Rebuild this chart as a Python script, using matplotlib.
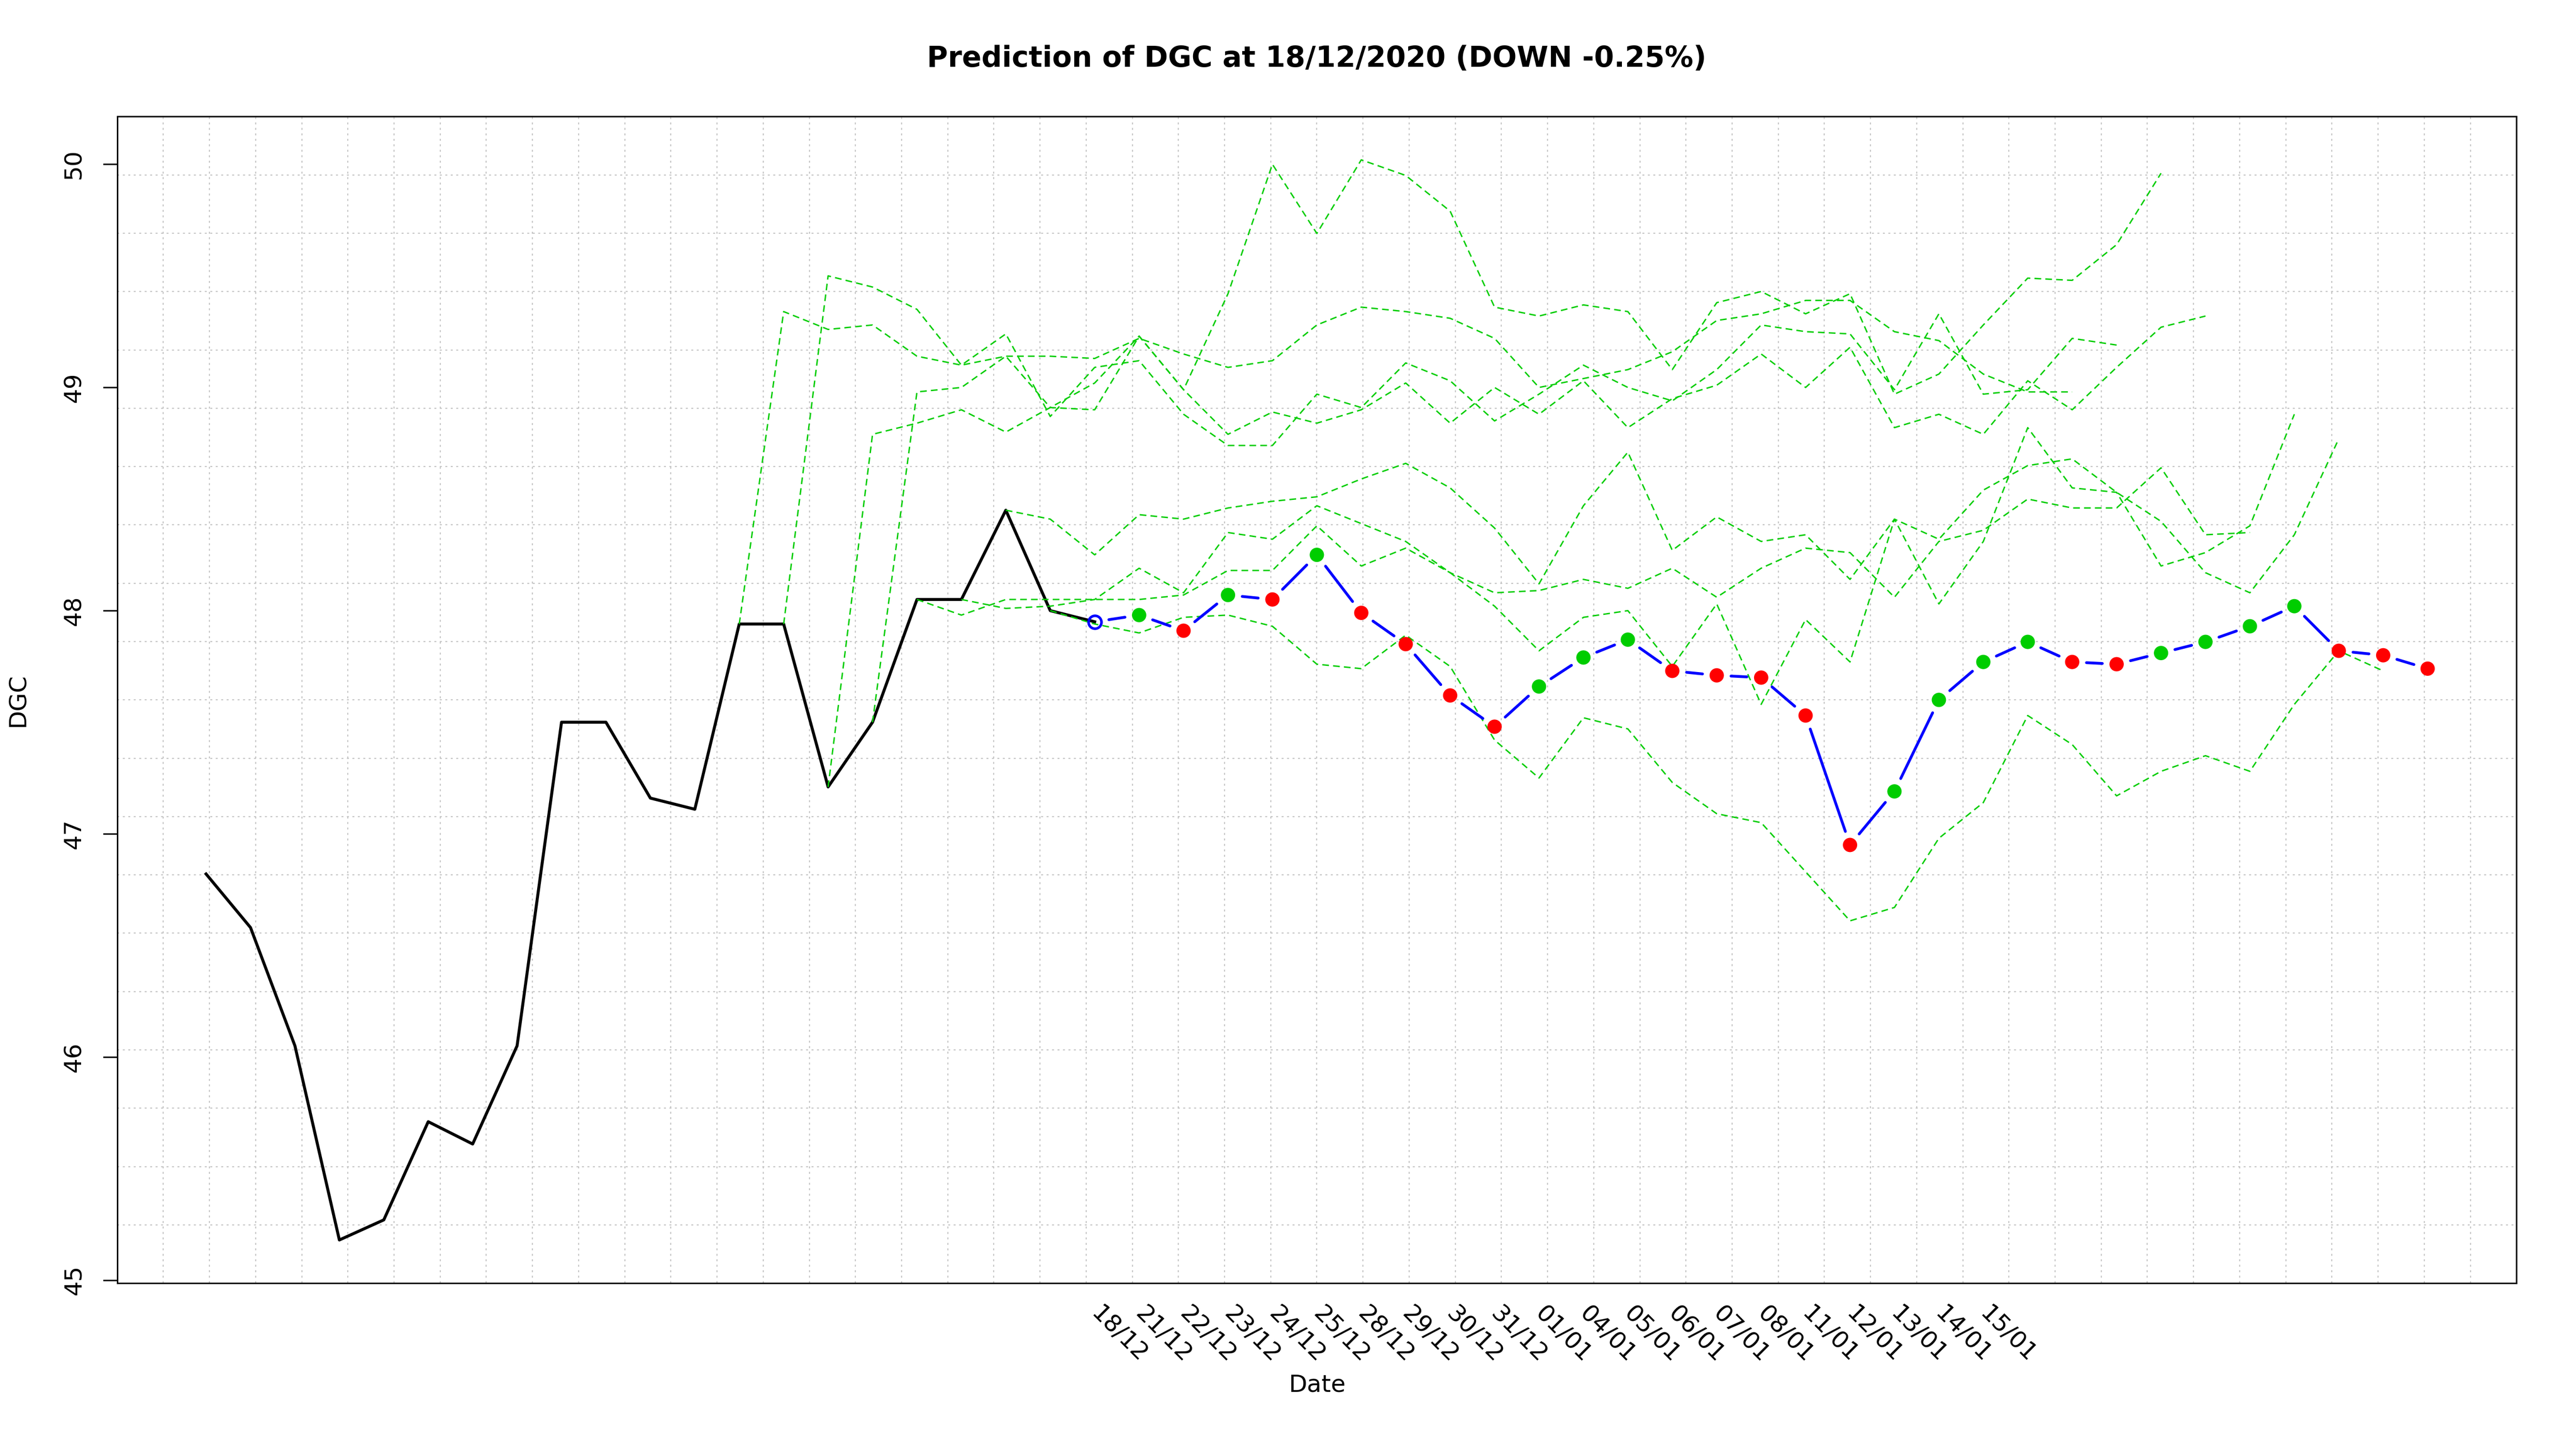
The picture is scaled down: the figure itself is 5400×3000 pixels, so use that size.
import numpy as np
import matplotlib
matplotlib.use("Agg")
import matplotlib.pyplot as plt

# closing prices before the forecast date (x = 1..21)
hist = [46.82, 46.58, 46.05, 45.18, 45.27, 45.71, 45.61, 46.05, 47.50, 47.50,
        47.16, 47.11, 47.94, 47.94, 47.21, 47.50, 48.05, 48.05, 48.45, 48.00, 47.95]

# predicted path (x = 21..51), first value is the last known price
pred = [47.95, 47.98, 47.91, 48.07, 48.05, 48.25, 47.99, 47.85, 47.62, 47.48,
        47.66, 47.79, 47.87, 47.73, 47.71, 47.70, 47.53, 46.95, 47.19, 47.60,
        47.77, 47.86, 47.77, 47.76, 47.81, 47.86, 47.93, 48.02, 47.82, 47.80, 47.74]

dates = ["18/12", "21/12", "22/12", "23/12", "24/12", "25/12", "28/12", "29/12",
         "30/12", "31/12", "01/01", "04/01", "05/01", "06/01", "07/01", "08/01",
         "11/01", "12/01", "13/01", "14/01", "15/01"]

# similar past paths (green dashed), each starts at x = start
path_starts = [13, 14, 15, 16, 17, 18, 19, 20]
path13 = [47.94, 49.34, 49.26, 49.28, 49.14, 49.10, 49.14, 49.14, 49.13, 49.22,
          49.15, 49.09, 49.12, 49.28, 49.36, 49.34, 49.31, 49.22, 49.00, 49.04,
          49.08, 49.16, 49.30, 49.33, 49.39, 49.39, 49.25, 49.21, 49.06, 48.98, 48.98]
path14 = [47.94, 49.50, 49.45, 49.35, 49.10, 49.24, 48.87, 49.09, 49.12, 48.88,
          48.74, 48.74, 48.97, 48.91, 49.11, 49.03, 48.85, 48.97, 49.10, 49.00,
          48.94, 49.08, 49.28, 49.25, 49.24, 48.99, 49.33, 48.97, 48.99, 49.22, 49.19]
path15 = [47.21, 48.79, 48.84, 48.90, 48.80, 48.91, 49.02, 49.23, 48.99, 49.42,
          50.00, 49.69, 50.02, 49.95, 49.79, 49.36, 49.32, 49.37, 49.34, 49.08,
          49.38, 49.43, 49.33, 49.42, 48.97, 49.06, 49.28, 49.49, 49.48, 49.64, 49.96]
path16 = [47.50, 48.98, 49.00, 49.14, 48.91, 48.90, 49.23, 48.99, 48.79, 48.89,
          48.84, 48.90, 49.02, 48.84, 49.00, 48.88, 49.03, 48.82, 48.95, 49.01,
          49.15, 49.00, 49.18, 48.82, 48.88, 48.79, 49.03, 48.90, 49.09, 49.27, 49.32]
path17 = [48.05, 47.98, 48.05, 48.05, 48.05, 48.05, 48.07, 48.18, 48.18, 48.38,
          48.20, 48.28, 48.17, 48.08, 48.09, 48.14, 48.10, 48.19, 48.06, 48.19,
          48.28, 48.26, 48.06, 48.31, 48.36, 48.50, 48.46, 48.46, 48.64, 48.34, 48.35]
path18 = [48.05, 48.01, 48.02, 48.05, 48.19, 48.08, 48.35, 48.32, 48.47, 48.39,
          48.31, 48.17, 48.02, 47.82, 47.97, 48.00, 47.75, 48.03, 47.58, 47.96,
          47.77, 48.41, 48.03, 48.31, 48.82, 48.55, 48.53, 48.20, 48.26, 48.38, 48.88]
path19 = [48.45, 48.41, 48.25, 48.43, 48.41, 48.46, 48.49, 48.51, 48.59, 48.66,
          48.55, 48.37, 48.12, 48.47, 48.71, 48.27, 48.42, 48.31, 48.34, 48.14,
          48.41, 48.32, 48.54, 48.65, 48.68, 48.53, 48.40, 48.17, 48.08, 48.34, 48.77]
path20 = [48.00, 47.94, 47.90, 47.97, 47.98, 47.93, 47.76, 47.74, 47.89, 47.75,
          47.42, 47.25, 47.52, 47.47, 47.23, 47.09, 47.05, 46.83, 46.61, 46.67,
          46.98, 47.14, 47.53, 47.40, 47.17, 47.28, 47.35, 47.28, 47.58, 47.82, 47.73]
paths = [path13, path14, path15, path16, path17, path18, path19, path20]

title = "Prediction of DGC at 18/12/2020 (DOWN -0.25%)"

GREEN = "#00CD00"

fig = plt.figure(figsize=(18, 10), dpi=300)
ax = fig.add_axes([0.0455, 0.1033, 0.9314, 0.8152])

x_hist = np.arange(1, len(hist) + 1)
x_pred = np.arange(len(hist), len(hist) + len(pred))

# R style limits: data range plus 4% each side
n_last = x_pred[-1]
xlo, xhi = 1 - 0.04 * (n_last - 1), n_last + 0.04 * (n_last - 1)
all_y = np.concatenate([hist, pred] + [np.array(p) for p in paths])
ymin, ymax = all_y.min(), all_y.max()
ylo, yhi = ymin - 0.04 * (ymax - ymin), ymax + 0.04 * (ymax - ymin)
ax.set_xlim(xlo, xhi)
ax.set_ylim(ylo, yhi)

# grid(nx=52, ny=20) like in R
grid_style = dict(color="#C4C4C4", lw=0.55, ls=(0, (1.8, 3.2)), zorder=0)
for gx in np.linspace(xlo, xhi, 53)[1:-1]:
    ax.axvline(gx, **grid_style)
for gy in np.linspace(ylo, yhi, 21)[1:-1]:
    ax.axhline(gy, **grid_style)

ax.plot(x_hist, hist, color="black", lw=1.5, zorder=2)

for s, p in zip(path_starts, paths):
    ax.plot(np.arange(s, s + len(p)), p, color=GREEN, lw=0.7,
            ls=(0, (4.8, 3.0)), zorder=3)

# blue line with gaps around the points (type = "b")
pts = ax.transData.transform(np.column_stack([x_pred, pred]))
gap = 0.1 * fig.dpi
inv = ax.transData.inverted()
for p0, p1 in zip(pts[:-1], pts[1:]):
    d = p1 - p0
    L = np.hypot(d[0], d[1])
    if L > 2 * gap:
        u = d / L
        seg = inv.transform(np.array([p0 + u * gap, p1 - u * gap]))
        ax.plot(seg[:, 0], seg[:, 1], color="blue", lw=1.4,
                solid_capstyle="round", zorder=4)

ax.plot(x_pred[0], pred[0], "o", ms=6.5, mfc="none", mec="blue", mew=1.3, zorder=5)
up = np.diff(pred) > 0
cols = [GREEN if u else "red" for u in up]
ax.scatter(x_pred[1:], pred[1:], s=7.2 ** 2, c=cols, edgecolors="none", zorder=5)

ax.set_xticks([])
ax.set_yticks(range(45, 51))
ax.tick_params(axis="y", length=7.2, width=0.75, pad=14.6, labelsize=12,
               labelrotation=90)
for lab in ax.get_yticklabels():
    lab.set_ha("center")
    lab.set_va("center")
for sp in ax.spines.values():
    sp.set_linewidth(0.75)

for xd, d in zip(x_pred, dates):
    ax.text(xd, -0.023, d, transform=ax.get_xaxis_transform(), rotation=-45,
            ha="left", va="center", rotation_mode="anchor", fontsize=12)

fig.text(0.5112, 0.9587, title, ha="center", va="center", fontsize=14.4,
         fontweight="bold")
fig.text(0.5112, 0.0323, "Date", ha="center", va="center", fontsize=12)
fig.text(0.0070, 0.5107, "DGC", ha="center", va="center", fontsize=12,
         rotation=90)

fig.savefig("out.png", dpi=300)
